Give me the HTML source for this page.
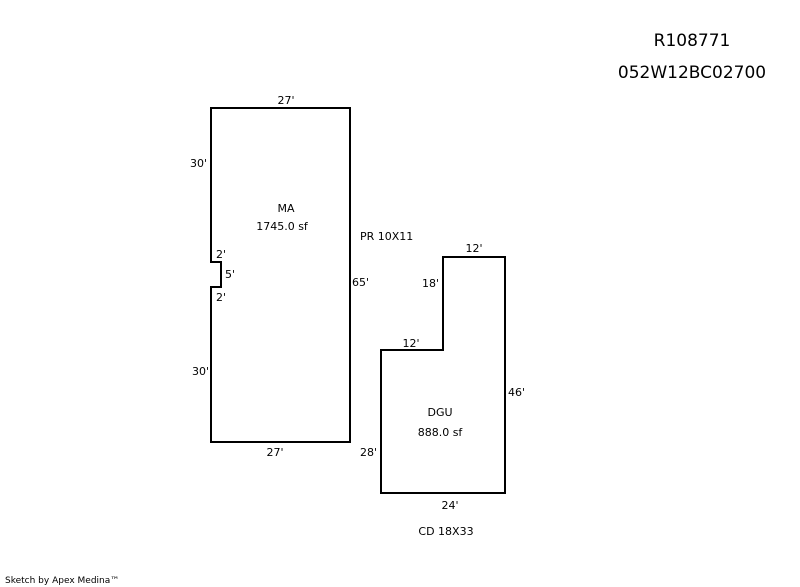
<!DOCTYPE html>
<html><head><meta charset="utf-8"><style>
html,body{margin:0;padding:0;background:#fff;}
svg{display:block}
text{font-family:"DejaVu Sans","Liberation Sans",sans-serif;fill:#000;font-size:11px}
</style></head><body>
<svg width="800" height="587" viewBox="0 0 800 587" xmlns="http://www.w3.org/2000/svg">
<polygon points="211,108 350,108 350,442 211,442 211,287 221,287 221,262 211,262" fill="none" stroke="#000" stroke-width="2"/>
<polygon points="443,257 505,257 505,493 381,493 381,350 443,350" fill="none" stroke="#000" stroke-width="2"/>
<text x="692" y="46" text-anchor="middle" style="font-size:17px">R108771</text>
<text x="692" y="78" text-anchor="middle" style="font-size:17px">052W12BC02700</text>
<text x="286" y="104" text-anchor="middle">27'</text>
<text x="190" y="167">30'</text>
<text x="286" y="212" text-anchor="middle">MA</text>
<text x="282" y="230" text-anchor="middle">1745.0 sf</text>
<text x="360" y="240">PR 10X11</text>
<text x="216" y="258">2'</text>
<text x="225" y="278">5'</text>
<text x="216" y="301">2'</text>
<text x="352" y="286">65'</text>
<text x="192" y="375">30'</text>
<text x="275" y="456" text-anchor="middle">27'</text>
<text x="474" y="252" text-anchor="middle">12'</text>
<text x="422" y="287">18'</text>
<text x="411" y="347" text-anchor="middle">12'</text>
<text x="508" y="396">46'</text>
<text x="440" y="416" text-anchor="middle">DGU</text>
<text x="440" y="436" text-anchor="middle">888.0 sf</text>
<text x="360" y="456">28'</text>
<text x="450" y="509" text-anchor="middle">24'</text>
<text x="446" y="535" text-anchor="middle">CD 18X33</text>
<text x="5" y="583" style="font-size:9px">Sketch by Apex Medina™</text>
</svg>
</body></html>
